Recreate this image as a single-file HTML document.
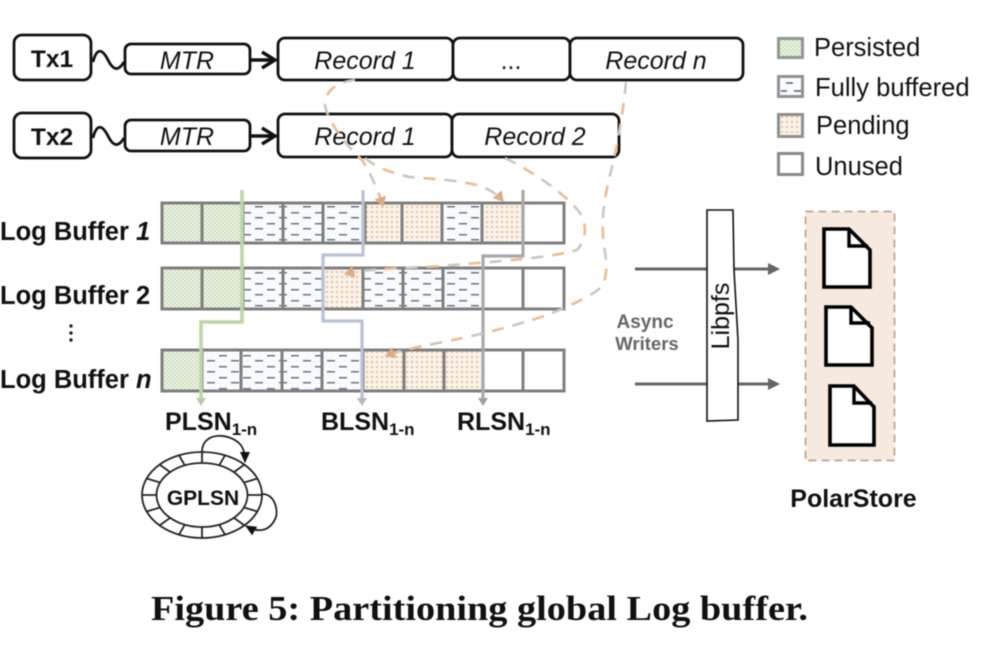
<!DOCTYPE html>
<html><head><meta charset="utf-8"><style>
html,body{margin:0;padding:0;background:#fff}
svg{display:block;filter:blur(0.45px)}
text{font-family:"Liberation Sans",sans-serif;fill:#111}
.b{font-weight:bold}
.i{font-style:italic}
.box{fill:#fff;stroke:#111;stroke-width:2.8}
.cell{stroke:#7f7f7f;stroke-width:3}
.dg{fill:none;stroke-width:2.6;stroke:#cdc6bd;stroke-dasharray:12 30}
.do{fill:none;stroke-width:2.6;stroke:#ebbd92;stroke-dasharray:12 30;stroke-dashoffset:-21}
.doc{fill:#fff;stroke:#000;stroke-width:3.6}
.ring{fill:none;stroke:#222;stroke-width:1.8}
</style></head><body>
<svg width="994" height="652" viewBox="0 0 994 652" xmlns="http://www.w3.org/2000/svg">
<defs>
<pattern id="pe" width="4" height="4" patternUnits="userSpaceOnUse"><rect width="4" height="4" fill="#f3f7ee"/><rect width="2" height="2" fill="#c9dcbc"/><rect x="2" y="2" width="2" height="2" fill="#c9dcbc"/></pattern>
<pattern id="fb" width="24" height="11" patternUnits="userSpaceOnUse"><rect width="24" height="11" fill="#f8fafd"/><rect x="3" y="3" width="8" height="1.5" fill="#6a7785"/><rect x="15" y="8" width="8" height="1.5" fill="#6a7785"/></pattern>
<pattern id="pn" width="5" height="5" patternUnits="userSpaceOnUse"><rect width="5" height="5" fill="#faf3ea"/><rect x="1" y="1" width="2" height="2" fill="#e5be9e"/></pattern>
<marker id="ao" markerWidth="12" markerHeight="12" refX="9" refY="6" orient="auto" markerUnits="userSpaceOnUse"><path d="M0 0L10 6L0 12Z" fill="#dcae86"/></marker>
<marker id="ak" markerWidth="12" markerHeight="12" refX="10" refY="6" orient="auto" markerUnits="userSpaceOnUse"><path d="M0 1L11 6L0 11Z" fill="#111"/></marker>
</defs>
<rect width="994" height="652" fill="#fff"/>

<!-- Tx rows -->
<rect class="box" x="14" y="35" width="77" height="45" rx="8"/>
<text class="b" x="52" y="67" font-size="24.5" text-anchor="middle">Tx1</text>
<rect class="box" x="14" y="113" width="77" height="45" rx="8"/>
<text class="b" x="52" y="145" font-size="24.5" text-anchor="middle">Tx2</text>
<path d="M93 62C97 46 103 50 108 60S118 72 124 62" fill="none" stroke="#111" stroke-width="2.8"/>
<path d="M93 138C97 122 103 126 108 136S118 148 124 138" fill="none" stroke="#111" stroke-width="2.8"/>
<rect class="box" x="125" y="44" width="125" height="30" rx="6"/>
<text class="i" x="187" y="69" font-size="25" text-anchor="middle">MTR</text>
<rect class="box" x="125" y="120" width="125" height="31" rx="6"/>
<text class="i" x="187" y="145" font-size="25" text-anchor="middle">MTR</text>
<path d="M250 60H275M262 52L275 60L262 68" fill="none" stroke="#111" stroke-width="3.4"/>
<path d="M250 136H275M262 128L275 136L262 144" fill="none" stroke="#111" stroke-width="3.4"/>
<rect class="box" x="278" y="38" width="175" height="42" rx="7"/>
<rect class="box" x="453" y="38" width="117" height="42" rx="7"/>
<rect class="box" x="570" y="38" width="173" height="42" rx="7"/>
<rect class="box" x="278" y="114" width="174" height="43" rx="7"/>
<rect class="box" x="452" y="114" width="167" height="43" rx="7"/>
<text class="i" x="365" y="69" font-size="25" text-anchor="middle">Record 1</text>
<text x="511" y="69" font-size="25" text-anchor="middle">...</text>
<text class="i" x="656" y="69" font-size="25" text-anchor="middle">Record n</text>
<text class="i" x="365" y="145" font-size="25" text-anchor="middle">Record 1</text>
<text class="i" x="535" y="145" font-size="25" text-anchor="middle">Record 2</text>

<!-- Legend -->
<rect x="778.5" y="38.5" width="24" height="19" fill="url(#pe)" stroke="#909890" stroke-width="3"/>
<rect x="778.5" y="76.5" width="24" height="20" fill="#fafcff" stroke="#8f9296" stroke-width="3"/>
<path d="M781 91h6M794 91h7M786 83h7" stroke="#51606f" stroke-width="1.5"/>
<rect x="778.5" y="114.5" width="24" height="22" fill="url(#pn)" stroke="#909090" stroke-width="3"/>
<rect x="778.5" y="153.5" width="24" height="21" fill="#fff" stroke="#8a8a8a" stroke-width="3"/>
<text x="814" y="56" font-size="25.5">Persisted</text>
<text x="815" y="96" font-size="25.6">Fully buffered</text>
<text x="816" y="134" font-size="25.5">Pending</text>
<text x="815" y="175" font-size="25.5">Unused</text>

<!-- Row 1 -->
<rect class="cell" x="162" y="203" width="40" height="40" fill="url(#pe)"/>
<rect class="cell" x="202" y="203" width="41" height="40" fill="url(#pe)"/>
<rect class="cell" x="243" y="203" width="40" height="40" fill="url(#fb)"/>
<rect class="cell" x="283" y="203" width="40" height="40" fill="url(#fb)"/>
<rect class="cell" x="323" y="203" width="42" height="40" fill="url(#fb)"/>
<rect class="cell" x="365" y="203" width="37" height="40" fill="url(#pn)"/>
<rect class="cell" x="402" y="203" width="40" height="40" fill="url(#pn)"/>
<rect class="cell" x="442" y="203" width="40" height="40" fill="url(#fb)"/>
<rect class="cell" x="482" y="203" width="41" height="40" fill="url(#pn)"/>
<rect class="cell" x="523" y="203" width="41" height="40" fill="#fff"/>
<!-- Row 2 -->
<rect class="cell" x="162" y="268" width="40" height="41" fill="url(#pe)"/>
<rect class="cell" x="202" y="268" width="41" height="41" fill="url(#pe)"/>
<rect class="cell" x="243" y="268" width="40" height="41" fill="url(#fb)"/>
<rect class="cell" x="283" y="268" width="40" height="41" fill="url(#fb)"/>
<rect class="cell" x="323" y="268" width="40" height="41" fill="url(#pn)"/>
<rect class="cell" x="363" y="268" width="40" height="41" fill="url(#fb)"/>
<rect class="cell" x="403" y="268" width="40" height="41" fill="url(#fb)"/>
<rect class="cell" x="443" y="268" width="40" height="41" fill="url(#fb)"/>
<rect class="cell" x="483" y="268" width="40" height="41" fill="#fff"/>
<rect class="cell" x="523" y="268" width="41" height="41" fill="#fff"/>
<!-- Row n -->
<rect class="cell" x="162" y="350" width="40" height="41" fill="url(#pe)"/>
<rect class="cell" x="202" y="350" width="39" height="41" fill="url(#fb)"/>
<rect class="cell" x="241" y="350" width="41" height="41" fill="url(#fb)"/>
<rect class="cell" x="282" y="350" width="40" height="41" fill="url(#fb)"/>
<rect class="cell" x="322" y="350" width="41" height="41" fill="url(#fb)"/>
<rect class="cell" x="363" y="350" width="41" height="41" fill="url(#pn)"/>
<rect class="cell" x="404" y="350" width="40" height="41" fill="url(#pn)"/>
<rect class="cell" x="444" y="350" width="39" height="41" fill="url(#pn)"/>
<rect class="cell" x="483" y="350" width="40" height="41" fill="#fff"/>
<rect class="cell" x="523" y="350" width="41" height="41" fill="#fff"/>

<!-- LSN lines -->
<path d="M242 190V322H201V400" fill="none" stroke="#bcd6a8" stroke-width="3.6"/>
<path d="M196 398H206L201 406Z" fill="#b9c9ae"/>
<path d="M363 190V255H323V321H362V400" fill="none" stroke="#b9c1d4" stroke-width="3.2"/>
<path d="M357 398H367L362 406Z" fill="#b5b8c0"/>
<path d="M523 190V256H483V400" fill="none" stroke="#a9a9a9" stroke-width="3.2"/>
<path d="M478 398H488L483 406Z" fill="#a0a0a0"/>

<!-- Dashed -->
<path class="dg" d="M355 80C335 82 325 92 325 105C327 118 342 142 362 160C370 172 378 190 383 206"/>
<path class="do" d="M355 80C335 82 325 92 325 105C327 118 342 142 362 160C370 172 378 190 383 206" marker-end="url(#ao)"/>
<path class="dg" d="M365 158C374 166 387 172 410 177C430 179 450 179 477 185C488 188 497 194 503 201"/>
<path class="do" d="M365 158C374 166 387 172 410 177C430 179 450 179 477 185C488 188 497 194 503 201" marker-end="url(#ao)"/>
<path class="dg" d="M505 158C530 170 565 193 580 213C587 225 587 238 577 250C550 258 500 261 443 266C410 268 370 268 345 274"/>
<path class="do" d="M505 158C530 170 565 193 580 213C587 225 587 238 577 250C550 258 500 261 443 266C410 268 370 268 345 274" marker-end="url(#ao)"/>
<path class="dg" d="M626 82C624 105 618 145 610 175C604 200 602 215 603 235C604 255 610 265 603 285C595 295 565 308 547 315C510 328 460 339 433 344C415 348 400 350 386 356"/>
<path class="do" d="M626 82C624 105 618 145 610 175C604 200 602 215 603 235C604 255 610 265 603 285C595 295 565 308 547 315C510 328 460 339 433 344C415 348 400 350 386 356" marker-end="url(#ao)"/>

<!-- Row labels -->
<text class="b" x="0" y="240" font-size="25.5">Log Buffer <tspan class="i">1</tspan></text>
<text class="b" x="0" y="304" font-size="25.5">Log Buffer 2</text>
<text class="b" x="0" y="388" font-size="25.5">Log Buffer <tspan class="i">n</tspan></text>
<circle cx="71" cy="326" r="1.7" fill="#222"/><circle cx="71" cy="333" r="1.7" fill="#222"/><circle cx="71" cy="340" r="1.7" fill="#222"/>

<text class="b" x="165" y="430" font-size="25">PLSN<tspan font-size="17" dy="5">1-n</tspan></text>
<text class="b" x="321" y="430" font-size="25">BLSN<tspan font-size="17" dy="5">1-n</tspan></text>
<text class="b" x="457" y="430" font-size="25">RLSN<tspan font-size="17" dy="5">1-n</tspan></text>

<!-- Ring -->
<ellipse class="ring" cx="202" cy="495" rx="60" ry="43" fill="#fff"/>
<path class="ring" d="M142 495H262M146.6 478.5L257.4 511.5M159.6 464.6L244.4 525.4M179 455.3L225 534.7M202 452V538M225 455.3L179 534.7M244.4 464.6L159.6 525.4M257.4 478.5L146.6 511.5"/>
<ellipse cx="202" cy="495" rx="45.5" ry="32" fill="#fff" stroke="#222" stroke-width="1.8"/>
<text class="b" x="203" y="505" font-size="21" text-anchor="middle">GPLSN</text>
<path class="ring" d="M202 452C202 432 228 432 240 444C244 449 245 454 245 462" marker-end="url(#ak)"/>
<path class="ring" d="M262 494C275 494 278 510 276 517C270 532 258 533 246 526" marker-end="url(#ak)"/>

<!-- Writers -->
<path d="M635 269H772" stroke="#666" stroke-width="3"/><path d="M768 263L780 269L768 275Z" fill="#666"/>
<path d="M635 384H772" stroke="#666" stroke-width="3"/><path d="M768 378L780 384L768 390Z" fill="#666"/>
<path d="M707 210H733L734 270L738 340V420L707 421Z" fill="#fff" stroke="#111" stroke-width="1.6"/>
<text x="0" y="0" font-size="25" text-anchor="middle" transform="translate(729,316) rotate(-90)">Libpfs</text>
<text class="b" x="645" y="328" font-size="19" text-anchor="middle" style="fill:#666">Async</text>
<text class="b" x="647" y="350" font-size="18.5" text-anchor="middle" style="fill:#666">Writers</text>

<!-- PolarStore -->
<rect x="805.5" y="211.5" width="89" height="249" fill="#f6e9df" stroke="#b89a86" stroke-width="1.5" stroke-dasharray="8 5"/>
<path class="doc" d="M824 229H849L870 250V287H824Z"/><path d="M849 229V246H868" fill="none" stroke="#000" stroke-width="3.4"/>
<path class="doc" d="M826 307H851L872 328V365H826Z"/><path d="M851 307V323H870" fill="none" stroke="#000" stroke-width="3.4"/>
<path class="doc" d="M830 386H854L874 407V445H830Z"/><path d="M854 386V403H872" fill="none" stroke="#000" stroke-width="3.4"/>
<text class="b" x="853.5" y="507" font-size="25" text-anchor="middle">PolarStore</text>

<!-- Caption -->
<text x="151" y="620" font-size="35" font-weight="bold" textLength="657" lengthAdjust="spacingAndGlyphs" style="font-family:'Liberation Serif',serif">Figure 5: Partitioning global Log buffer.</text>
</svg>
</body></html>
